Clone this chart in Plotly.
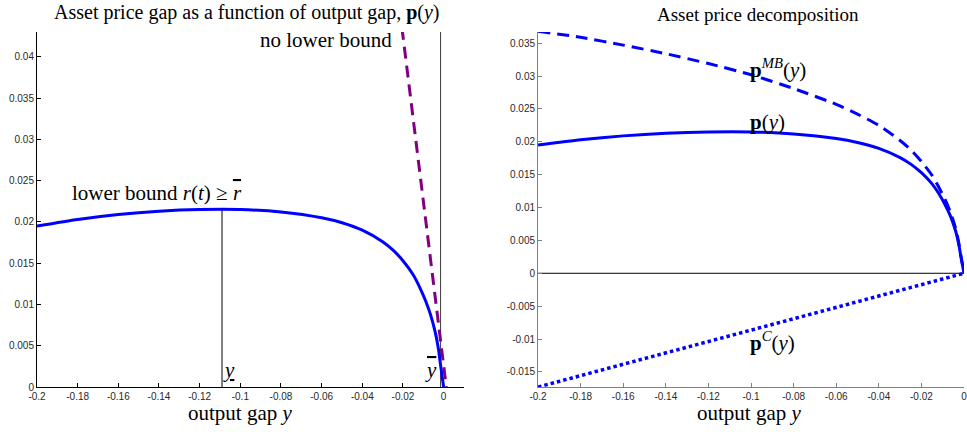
import plotly.graph_objects as go

# ---------------- data ----------------
y_grid = [-0.2, -0.18, -0.16, -0.14, -0.12, -0.10, -0.08, -0.06, -0.05, -0.04,
          -0.03, -0.025, -0.02, -0.015, -0.012, -0.009, -0.0065, -0.004,
          -0.0025, -0.0016, -0.0008, 0.0]
p_vals = [0.0195, 0.0203, 0.0209, 0.0213, 0.0215, 0.0215, 0.0212, 0.0205, 0.0199, 0.0190,
          0.0176, 0.0166, 0.0153, 0.0136, 0.0122, 0.0105, 0.0088, 0.0065,
          0.0045, 0.0028, 0.0014, 0.0]
pMB_vals = [0.0368, 0.0359, 0.0347, 0.0334, 0.0319, 0.0302, 0.0281, 0.0257, 0.0242, 0.0225,
            0.0202, 0.0188, 0.0170, 0.0149, 0.0132, 0.0113, 0.0094, 0.0069,
            0.0047, 0.0029, 0.0015, 0.0]
pC_y = [-0.2, -0.1, 0.0]
pC_vals = [-0.0173, -0.00865, 0.0]

nolb_y = [-0.0205, -0.010, 0.0013]
nolb_vals = [0.0435, 0.0226, 0.0]

y_low = -0.109
p_at_ylow = 0.0215
y_bar = -0.0015
left_ymax = 0.043

left_xticks = [-0.2, -0.18, -0.16, -0.14, -0.12, -0.1, -0.08, -0.06, -0.04, -0.02, 0]
left_xtext = ["-0.2", "-0.18", "-0.16", "-0.14", "-0.12", "-0.1", "-0.08", "-0.06", "-0.04", "-0.02", "0"]
left_yticks = [0, 0.005, 0.01, 0.015, 0.02, 0.025, 0.03, 0.035, 0.04]
left_ytext = ["0", "0.005", "0.01", "0.015", "0.02", "0.025", "0.03", "0.035", "0.04"]
right_yticks = [-0.015, -0.01, -0.005, 0, 0.005, 0.01, 0.015, 0.02, 0.025, 0.03, 0.035]
right_ytext = ["-0.015", "-0.01", "-0.005", "0", "0.005", "0.01", "0.015", "0.02", "0.025", "0.03", "0.035"]

# ---------------- figure ----------------
BLUE = "rgb(0,0,255)"
PURPLE = "rgb(128,0,128)"
SERIF = "Liberation Serif"
SANS = "Liberation Sans"

fig = go.Figure()

# left panel
fig.add_trace(go.Scatter(x=[y_low, y_low], y=[0, p_at_ylow], mode="lines",
                         line=dict(color="black", width=1), xaxis="x", yaxis="y", showlegend=False))
fig.add_trace(go.Scatter(x=[y_bar, y_bar], y=[0, left_ymax], mode="lines",
                         line=dict(color="rgb(60,60,60)", width=1), xaxis="x", yaxis="y", showlegend=False))
fig.add_trace(go.Scatter(x=y_grid, y=p_vals, mode="lines", line=dict(color=BLUE, width=3, shape="spline", smoothing=0.6),
                         xaxis="x", yaxis="y", showlegend=False))
fig.add_trace(go.Scatter(x=nolb_y, y=nolb_vals, mode="lines",
                         line=dict(color=PURPLE, width=3, dash="12px,7px"),
                         xaxis="x", yaxis="y", showlegend=False))

# right panel
fig.add_trace(go.Scatter(x=[-0.2, 0], y=[0, 0], mode="lines", line=dict(color="black", width=1),
                         xaxis="x2", yaxis="y2", showlegend=False))
fig.add_trace(go.Scatter(x=y_grid, y=pMB_vals, mode="lines",
                         line=dict(color=BLUE, width=3, dash="12px,7px", shape="spline", smoothing=0.6),
                         xaxis="x2", yaxis="y2", showlegend=False))
fig.add_trace(go.Scatter(x=y_grid, y=p_vals, mode="lines", line=dict(color=BLUE, width=3, shape="spline", smoothing=0.6),
                         xaxis="x2", yaxis="y2", showlegend=False))
fig.add_trace(go.Scatter(x=pC_y, y=pC_vals, mode="lines",
                         line=dict(color=BLUE, width=3.5, dash="3.5px,3px"),
                         xaxis="x2", yaxis="y2", showlegend=False))

tickfont = dict(family=SANS, size=10, color="rgb(40,40,40)")
common = dict(showgrid=False, zeroline=False, showline=True, ticks="inside", ticklen=4,
              tickfont=tickfont, mirror=False, automargin=False)

fig.update_layout(
    width=967, height=432,
    margin=dict(l=37, r=3, t=32, b=45),
    paper_bgcolor="white", plot_bgcolor="white",
    hovermode=False,
    xaxis=dict(domain=[0, 0.4606], range=[-0.2, 0.01], tickvals=left_xticks, ticktext=left_xtext,
               linecolor="black", tickcolor="black", anchor="y", **common),
    yaxis=dict(domain=[0, 1], range=[0, left_ymax], tickvals=left_yticks, ticktext=left_ytext,
               linecolor="black", tickcolor="black", anchor="x", **common),
    xaxis2=dict(domain=[0.5405, 1], range=[-0.2, 0], tickvals=left_xticks, ticktext=left_xtext,
                linecolor="rgb(128,128,128)", tickcolor="rgb(128,128,128)", anchor="y2",
                ticklabeloverflow="allow", **common),
    yaxis2=dict(domain=[0, 1], range=[-0.0173, 0.0367], tickvals=right_yticks, ticktext=right_ytext,
                linecolor="rgb(128,128,128)", tickcolor="rgb(128,128,128)", anchor="x2", **common),
)

tfont = dict(family=SERIF, size=21, color="black")
ann = [
    dict(text="Asset price gap as a function of output gap, <b>p</b>(<i>y</i>)", xref="paper", yref="paper",
         x=0.2265, y=1.0, yshift=20, xanchor="center", yanchor="middle",
         font=dict(family=SERIF, size=20, color="black")),
    dict(text="Asset price decomposition", xref="paper", yref="paper",
         x=0.7773, y=1.0, yshift=18, xanchor="center", yanchor="middle",
         font=dict(family=SERIF, size=19, color="black")),
    dict(text="output gap <i>y</i>", xref="paper", yref="paper",
         x=0.2200, y=0.0, yshift=-26, xanchor="center", yanchor="middle", font=tfont),
    dict(text="output gap <i>y</i>", xref="paper", yref="paper",
         x=0.7685, y=0.0, yshift=-26, xanchor="center", yanchor="middle", font=tfont),
    dict(text="lower bound <i>r</i>(<i>t</i>) ≥ <span style='text-decoration:overline'><i>r</i></span>",
         xref="x", yref="y", x=-0.184, y=0.0235, xanchor="left", yanchor="middle", font=tfont),
    dict(text="no lower bound", xref="x", yref="y", x=-0.0245, y=0.0420, xanchor="right", yanchor="middle", font=tfont),
    dict(text="<span style='text-decoration:underline'><i>y</i></span>", xref="x", yref="y", x=-0.1095, y=0.0020,
         xanchor="left", yanchor="middle", font=tfont),
    dict(text="<span style='text-decoration:overline'><i>y</i></span>", xref="x", yref="y", x=-0.0025, y=0.0020,
         xanchor="right", yanchor="middle", font=tfont),
    dict(text="<b>p</b><sup><i>MB</i></sup>(<i>y</i>)", xref="x2", yref="y2", x=-0.1015, y=0.0312,
         xanchor="left", yanchor="middle", font=tfont),
    dict(text="<b>p</b>(<i>y</i>)", xref="x2", yref="y2", x=-0.1015, y=0.0230,
         xanchor="left", yanchor="middle", font=tfont),
    dict(text="<b>p</b><sup><i>C</i></sup>(<i>y</i>)", xref="x2", yref="y2", x=-0.1015, y=-0.0104,
         xanchor="left", yanchor="middle", font=tfont),
]
for a in ann:
    a["showarrow"] = False
fig.update_layout(annotations=ann)

# remove the browser's default 8px body margin so the figure fills the window exactly
fig.write_html("out.html", config={"displayModeBar": False, "staticPlot": True},
               post_script="document.body.style.margin='0';document.body.style.overflow='hidden';")
